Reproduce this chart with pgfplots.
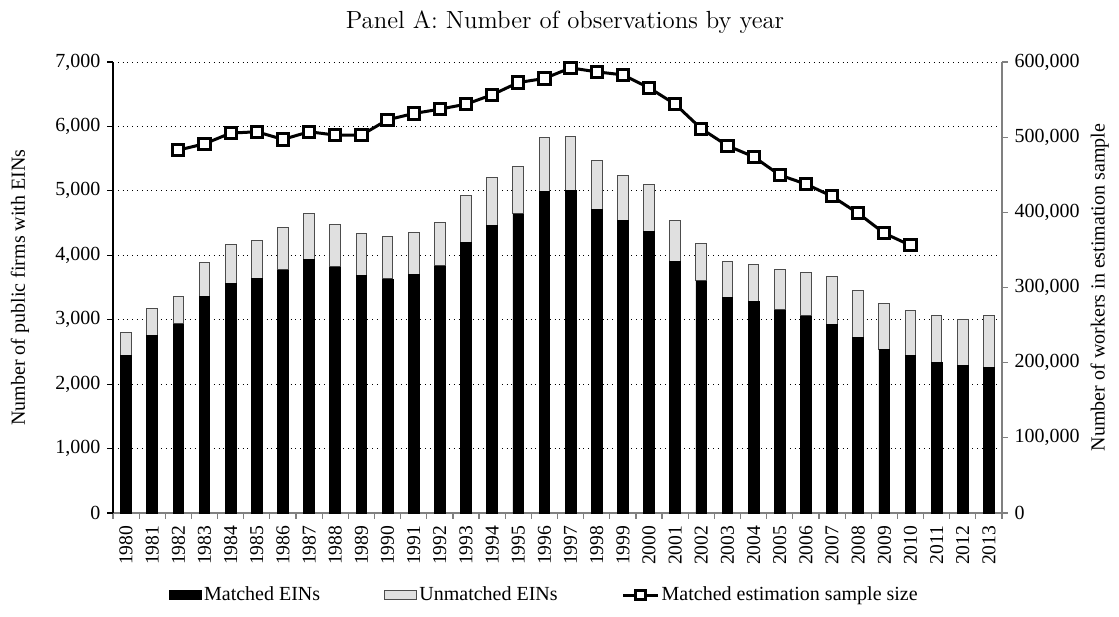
\documentclass[border=0pt]{standalone}
\usepackage{fontspec}
\usepackage{pgfplots}
\usepackage{pgfplotstable}
\pgfplotsset{compat=1.18}
\newfontfamily\tnr{Liberation Serif}
\definecolor{lightbar}{HTML}{E0E0E0}

\pgfplotstableread{
x year matched unmatched
0 1980 2439 357
1 1981 2760 408
2 1982 2935 424
3 1983 3359 527
4 1984 3561 604
5 1985 3643 590
6 1986 3773 661
7 1987 3938 708
8 1988 3819 662
9 1989 3685 656
10 1990 3633 656
11 1991 3700 657
12 1992 3835 671
13 1993 4196 739
14 1994 4465 739
15 1995 4641 739
16 1996 4987 842
17 1997 5013 832
18 1998 4713 765
19 1999 4537 709
20 2000 4377 719
21 2001 3907 630
22 2002 3602 579
23 2003 3339 568
24 2004 3277 583
25 2005 3152 631
26 2006 3059 667
27 2007 2925 739
28 2008 2729 728
29 2009 2537 719
30 2010 2450 692
31 2011 2341 718
32 2012 2286 724
33 2013 2257 802
}\bars

\pgfplotstableread{
x sample
2 482800
3 491200
4 505400
5 507200
6 497000
7 507200
8 502800
9 502800
10 523100
11 531500
12 537300
13 543900
14 556400
15 572700
16 578100
17 592200
18 586900
19 582900
20 565700
21 543900
22 511200
23 488600
24 474000
25 449600
26 437600
27 421300
28 398700
29 372100
30 356100
}\samples

\begin{document}
\begin{tikzpicture}
\useasboundingbox (-56.5pt,-51.5pt) rectangle (503pt,256.5pt);
\begin{axis}[
  at={(0,0)}, anchor=south west,
  scale only axis, width=444.5pt, height=225.5pt,
  ybar stacked, bar width=0.41,
  xmin=-0.5, xmax=33.5,
  ymin=0, ymax=7000,
  ytick={0,1000,...,7000},
  xtick={0,...,33},
  xticklabels={1980,1981,1982,1983,1984,1985,1986,1987,1988,1989,1990,1991,1992,1993,1994,1995,1996,1997,1998,1999,2000,2001,2002,2003,2004,2005,2006,2007,2008,2009,2010,2011,2012,2013},
  x tick label style={rotate=90, anchor=east, font=\tnr\fontsize{9.8}{11}\selectfont},
  y tick label style={font=\tnr\fontsize{10}{12}\selectfont},
  /pgf/number format/assume math mode=true,
  /pgf/number format/fixed,
  /pgf/number format/1000 sep={,},
  scaled y ticks=false,
  minor xtick={-0.5,0.5,...,33.5},
  major x tick style={draw=none},
  minor x tick style={draw=gray, line width=0.6pt},
  y tick style={draw=black, line width=0.6pt},
  major tick length=2.8pt, minor tick length=2.8pt,
  tick align=outside,
  axis x line*=bottom, axis y line*=left,
  x axis line style={draw=gray, line width=0.6pt, -},
  y axis line style={draw=black, line width=0.7pt, -},
  ymajorgrids, grid style={black, dotted, line width=0.5pt},
  ylabel={Number of public firms with EINs},
  ylabel style={at={(axis description cs:-0.1046,0.5)}, anchor=center, font=\tnr\fontsize{10}{12}\selectfont},
  every axis title shift=0pt,
  title={Panel A: Number of observations by year},
  title style={at={(axis description cs:0.5084,1.088)}, anchor=center, font=\fontsize{12.4}{14}\selectfont},
]
\addplot[fill=black, draw=black, line width=0.4pt] table[x=x, y=matched] {\bars};
\addplot[fill=lightbar, draw=black!70, line width=0.5pt] table[x=x, y=unmatched] {\bars};
\end{axis}
\begin{axis}[
  at={(0,0)}, anchor=south west,
  scale only axis, width=444.5pt, height=225.5pt,
  xmin=-0.5, xmax=33.5,
  ymin=0, ymax=600000,
  ytick={0,100000,200000,300000,400000,500000,600000},
  scaled y ticks=false,
  /pgf/number format/assume math mode=true,
  /pgf/number format/fixed,
  /pgf/number format/1000 sep={,},
  axis x line=none,
  axis y line*=right,
  y axis line style={draw=gray, line width=0.7pt, -},
  y tick style={draw=gray, line width=0.6pt},
  major tick length=2.8pt, tick align=outside,
  y tick label style={font=\tnr\fontsize{10}{12}\selectfont},
  ylabel={Number of workers in estimation sample},
  ylabel style={at={(axis description cs:1.110,0.5)}, anchor=center, rotate=0, font=\tnr\fontsize{10}{12}\selectfont},
  legend columns=3,
  legend style={at={(axis description cs:0.4854,-0.182)}, anchor=center, draw=none, fill=none,
    font=\tnr\fontsize{10}{12}\selectfont,
    nodes={inner xsep=1pt, inner ysep=1pt}},
  legend cell align=left,
]
\addlegendimage{legend image code/.code={\draw[fill=black, draw=black] (0pt,-2.3pt) rectangle (16pt,2.3pt);}}
\addlegendentry{Matched EINs\hspace*{31pt}}
\addlegendimage{legend image code/.code={\draw[fill=lightbar, draw=black!70, line width=0.6pt] (0pt,-2.3pt) rectangle (16pt,2.3pt);}}
\addlegendentry{Unmatched EINs\hspace*{31pt}}
\addplot[black, line width=1.5pt, mark=square*, mark size=2.8pt,
  mark options={fill=white, draw=black, line width=1.5pt},
  legend image code/.code={\draw[black, line width=1.5pt] (0pt,0pt) -- (17.5pt,0pt);
    \draw[fill=white, draw=black, line width=1.3pt] (6.25pt,-2.2pt) rectangle (11.25pt,2.2pt);}] table[x=x, y=sample] {\samples};
\addlegendentry{Matched estimation sample size}
\end{axis}
\end{tikzpicture}
\end{document}
